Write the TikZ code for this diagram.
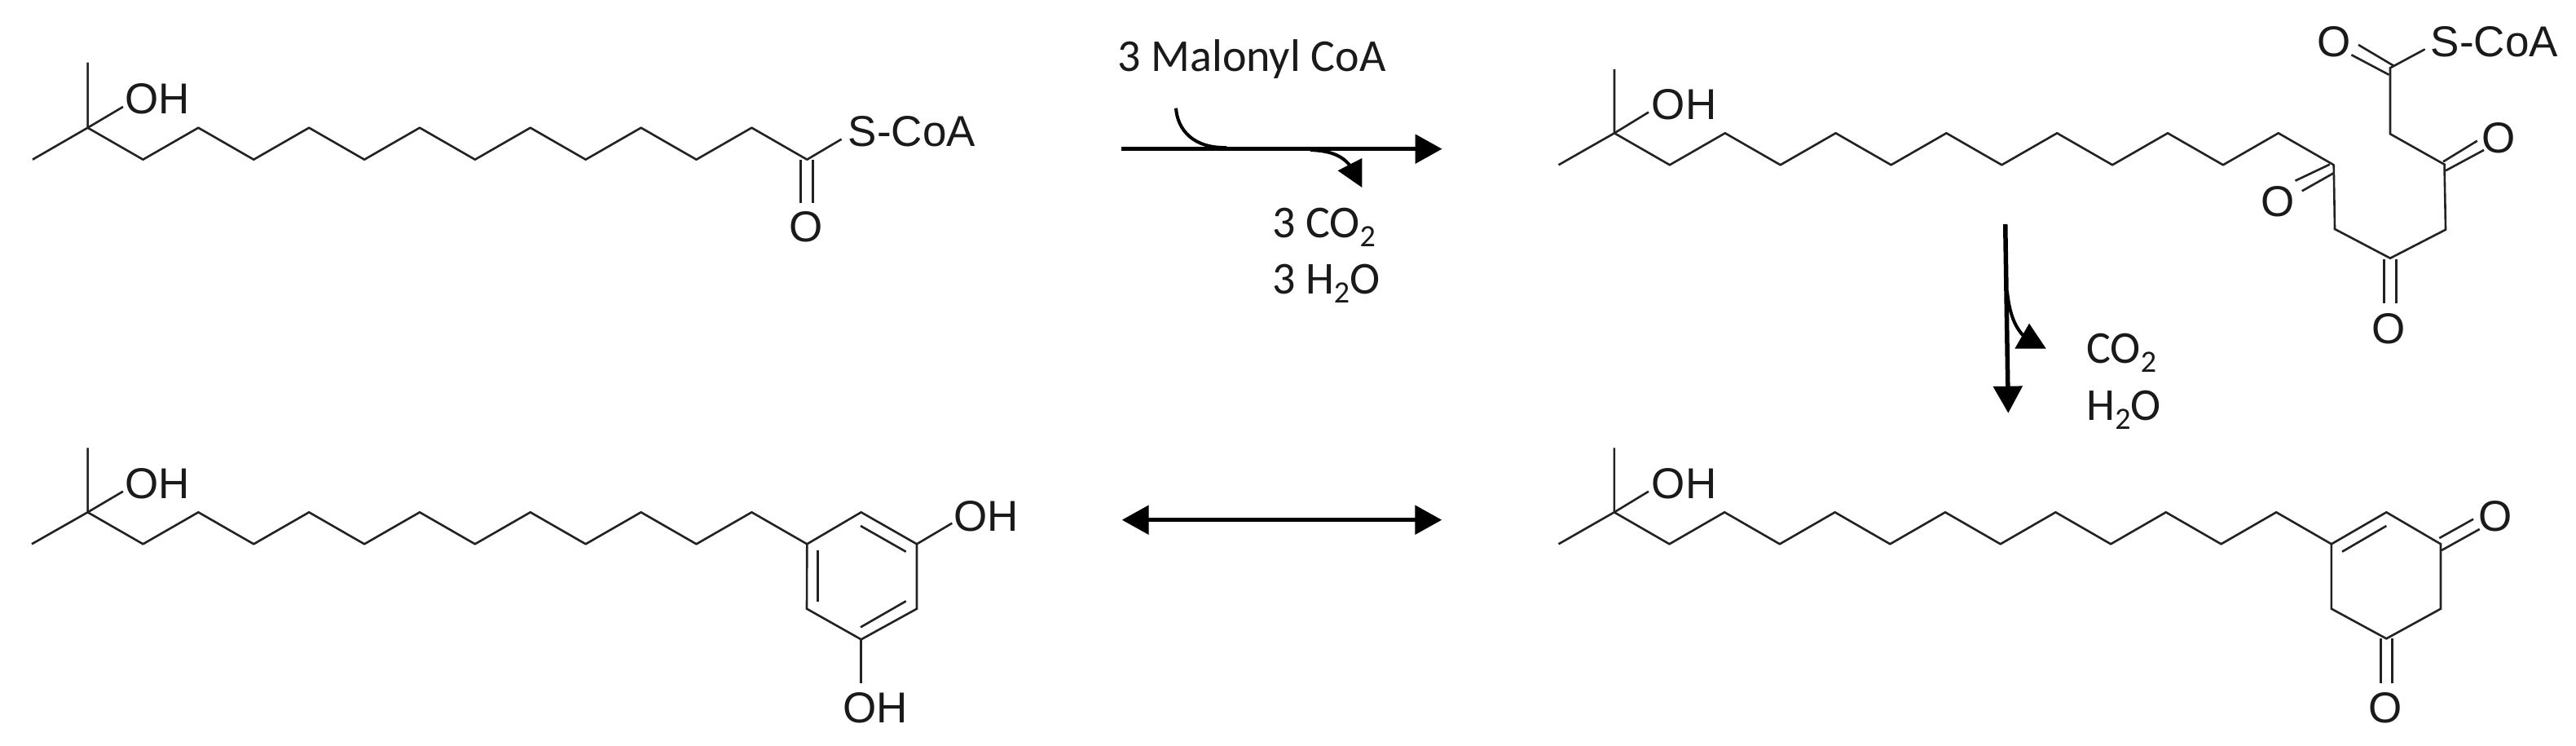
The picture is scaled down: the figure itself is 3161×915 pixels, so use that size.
\documentclass[tikz,border=0pt]{standalone}
\usepackage{fontspec}
\usetikzlibrary{arrows.meta}
\newfontfamily\chemfont{Liberation Sans}
\newfontfamily\labfont{Carlito}
\newcommand{\subtwo}{\raisebox{-11pt}{\fontsize{38}{40}\selectfont 2}}
\definecolor{bondcol}{HTML}{222222}
\definecolor{atomcol}{HTML}{1A1A1A}
\tikzset{
  x=1pt,y=-1pt,
  bond/.style={draw=bondcol,line width=2.6pt,line join=miter},
  atom/.style={inner sep=0pt,outer sep=0pt,anchor=base,text=atomcol,font=\chemfont\fontsize{53}{60}\selectfont},
  lab/.style={inner sep=0pt,outer sep=0pt,anchor=base west,text=atomcol,font=\labfont\fontsize{56}{60}\selectfont},
  rxn/.style={draw=black,line width=5.5pt,-{Triangle[length=33pt,width=35pt]}},
  rxnb/.style={draw=black,line width=5.5pt,{Triangle[length=33pt,width=35pt]}-{Triangle[length=33pt,width=35pt]}},
  thin rxn/.style={draw=black,line width=4pt},
  headfill/.style={fill=black,draw=none},
}
\newcommand{\chain}[6]{% prefix, x0, ypeak, ylow, step, last k
  \foreach \k in {0,...,#6}{
    \pgfmathsetmacro{\yy}{isodd(\k)?#4:#3}
    \coordinate (#1\k) at ({#2+#5*\k},\yy);
  }
  \foreach \k [remember=\k as \p (initially 0)] in {1,...,#6}{
    \draw[bond,line cap=round] (#1\p) -- (#1\k);
  }
}
\begin{document}
\begin{tikzpicture}
\useasboundingbox (0,0) rectangle (3161,915);
\fill[white] (0,0) rectangle (3161,915);

% ---- Top-left molecule
\chain{a}{107.6}{156.7}{195.7}{67.9}{13}
\coordinate (aMe1) at (40,195.7);
\coordinate (aMe2) at (107.6,76.7);
\coordinate (aOb) at (151,131);
\coordinate (aSb) at (1032.6,170.7);
\node[atom] (aOH) at (193,139.5) {OH};
\node[atom] (aS) at (1119,179.5) {S-CoA};
\node[atom] (aO) at (989,296) {O};
\draw[bond] (aMe1) -- (a0) -- (aMe2);
\draw[bond] (a0) -- (aOb);
\draw[bond] (a13) -- (aSb);
\coordinate (aD1s) at (982.6,195.7); \coordinate (aD1e) at (982.6,249);
\coordinate (aD2s) at (997.3,195.7); \coordinate (aD2e) at (997.3,249);
\draw[bond] (aD1s) -- (aD1e);
\draw[bond] (aD2s) -- (aD2e);

% ---- Top-right molecule
\chain{b}{1981}{163.3}{202.3}{67.9}{13}
\coordinate (bMe1) at (1912.5,202.3);
\coordinate (bMe2) at (1981,85);
\coordinate (bOb) at (2023,137.6);
\node[atom] (bOH) at (2066.5,146.5) {OH};
\draw[bond] (bMe1) -- (b0) -- (bMe2);
\draw[bond] (b0) -- (bOb);
\coordinate (c1) at (2865,281);
\coordinate (c2) at (2933,316.7);
\coordinate (c3) at (3001,281.7);
\coordinate (c4) at (2999.5,201.7);
\coordinate (c5) at (2933,164.3);
\coordinate (c6) at (2933,83.3);
\coordinate (bSb) at (2975,60.7);
\draw[bond,line cap=round] (b13) -- (c1) -- (c2) -- (c3) -- (c4) -- (c5) -- (c6) -- (bSb);
\node[atom] (bS) at (3061,70) {S-CoA};
\node[atom] (bO1) at (2863.6,70) {O};
\node[atom] (bO2) at (3066.5,187) {O};
\node[atom] (bO3) at (2794.6,265) {O};
\node[atom] (bO4) at (2930.6,421) {O};
\draw[bond] (2894,55) -- (2937.8,81);
\draw[bond] (2885.4,67.3) -- (2931.5,91.7);
\draw[bond] (2998,198.3) -- (3039.8,172.7);
\draw[bond] (3001,209.3) -- (3048,184);
\draw[bond] (2858.7,201.7) -- (2816.5,221.7);
\draw[bond] (2863.6,212.3) -- (2824.7,234.3);
\draw[bond] (2925.7,318.3) -- (2925.7,371.7);
\draw[bond] (2940.3,318.3) -- (2940.3,371.7);

% ---- Bottom-left molecule
\chain{d}{107.6}{628.3}{667.3}{67.9}{13}
\coordinate (dMe1) at (39,667.3);
\coordinate (dMe2) at (107.6,549.3);
\coordinate (dOb) at (151,602.7);
\node[atom] (dOH) at (193,611.5) {OH};
\draw[bond] (dMe1) -- (d0) -- (dMe2);
\draw[bond] (d0) -- (dOb);
\coordinate (e1) at (1056.7,628.3);
\coordinate (e2) at (1125,667.3);
\coordinate (e3) at (1125,746.7);
\coordinate (e4) at (1056.7,784.3);
\coordinate (e5) at (990,746.7);
\draw[bond,line cap=round] (d13) -- (e1) -- (e2) -- (e3) -- (e4) -- (e5) -- (d13);
\draw[bond] (1003.3,675) -- (1003.3,738.3);
\draw[bond] (1056,645) -- (1111.7,676.7);
\draw[bond] (1056,769.3) -- (1111.7,737.3);
\coordinate (dO1b) at (1168.3,641.7);
\coordinate (dO2b) at (1056.7,837.7);
\node[atom] (dOH1) at (1210,651.5) {OH};
\node[atom] (dOH2) at (1074.5,886.5) {OH};
\draw[bond] (e2) -- (dO1b);
\draw[bond] (e4) -- (dO2b);

% ---- Bottom-right molecule
\chain{f}{1980.8}{628.3}{667.3}{67.7}{13}
\coordinate (fMe1) at (1912.5,667.3);
\coordinate (fMe2) at (1980.8,549.3);
\coordinate (fOb) at (2023,602.7);
\node[atom] (fOH) at (2066.5,611.5) {OH};
\draw[bond] (fMe1) -- (f0) -- (fMe2);
\draw[bond] (f0) -- (fOb);
\coordinate (g1) at (2928.3,628.3);
\coordinate (g2) at (2995,667.3);
\coordinate (g3) at (2995,746.7);
\coordinate (g4) at (2928.3,783.3);
\coordinate (g5) at (2860.9,746.7);
\draw[bond,line cap=round] (f13) -- (g1) -- (g2) -- (g3) -- (g4) -- (g5) -- (f13);
\draw[bond] (2928.3,645) -- (2874,676.7);
\draw[bond] (2993.3,660) -- (3035,636.7);
\draw[bond] (2996,675) -- (3042.7,649);
\draw[bond] (2921.7,783.3) -- (2921.7,837.7);
\draw[bond] (2935.7,783.3) -- (2935.7,837.7);
\node[atom] (fO1) at (3061.7,651.5) {O};
\node[atom] (fO2) at (2926.7,886.5) {O};

% ---- Reaction arrows
\coordinate (r1s) at (1376,182.7); \coordinate (r1e) at (1769.6,182.7);
\draw[rxn] (r1s) -- (r1e);
\coordinate (r1in) at (1443,132.7); \coordinate (r1inE) at (1505,181);
\draw[thin rxn] (r1in) .. controls (1445,160) and (1465,182) .. (r1inE);
\coordinate (r1out) at (1608,184); \coordinate (r1outE) at (1660,208);
\draw[thin rxn] (r1out) .. controls (1635,185) and (1650,192) .. (r1outE);
\fill[headfill] (1671.4,194) -- (1641.5,209.3) -- (1671.4,230) -- cycle;

\coordinate (r2s) at (2460.7,275); \coordinate (r2e) at (2464.3,506.7);
\draw[rxn] (r2s) -- (r2e);
\coordinate (r2out) at (2463,358); \coordinate (r2outE) at (2483,412);
\draw[thin rxn] (r2out) .. controls (2466,385) and (2472,400) .. (r2outE);
\fill[headfill] (2490,396.7) -- (2472.3,427.7) -- (2510.7,427.7) -- cycle;

\coordinate (r3s) at (1376.7,637.7); \coordinate (r3e) at (1769.3,637.7);
\draw[rxnb] (r3s) -- (r3e);

% ---- Reagent labels
\node[lab] (t1) at (1371.5,87.3) {3 Malonyl CoA};
\node[lab] (t2) at (1561,291.7) {3 CO\subtwo};
\node[lab] (t3) at (1561,360.7) {3 H\subtwo O};
\node[lab] (t4) at (2560.5,445) {CO\subtwo};
\node[lab] (t5) at (2560.5,515) {H\subtwo O};
\end{tikzpicture}
\end{document}
